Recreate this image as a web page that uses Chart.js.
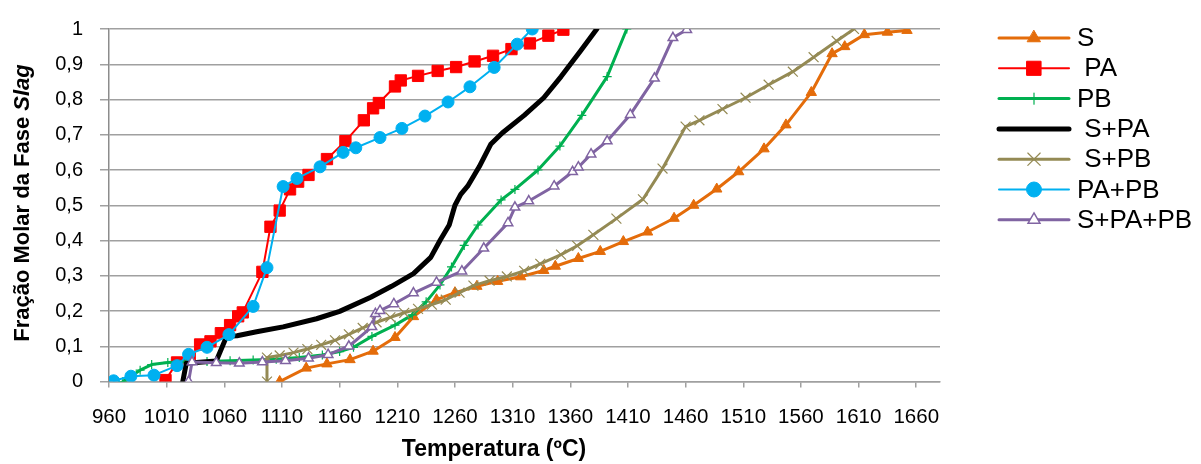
<!DOCTYPE html>
<html>
<head>
<meta charset="utf-8">
<script src="https://cdn.jsdelivr.net/npm/chart.js@4.4.1/dist/chart.umd.min.js"></script>
<style>
  html, body { margin: 0; padding: 0; background: #fff; }
  #wrap { width: 1201px; height: 464px; }
</style>
</head>
<body>
<div id="wrap"><canvas id="slagChart" width="1201" height="464"></canvas></div>
<script>
// Eixos
const xTicks = [960, 1010, 1060, 1110, 1160, 1210, 1260, 1310, 1360, 1410, 1460, 1510, 1560, 1610, 1660];
const yTicks = [0, 0.1, 0.2, 0.3, 0.4, 0.5, 0.6, 0.7, 0.8, 0.9, 1];
const yTickLabels = ['0', '0,1', '0,2', '0,3', '0,4', '0,5', '0,6', '0,7', '0,8', '0,9', '1'];
const xTitleText = 'Temperatura (ºC)';

// Nomes das séries (como aparecem na legenda)
const seriesNames = ['S', ' PA', 'PB', ' S+PA', ' S+PB', 'PA+PB', 'S+PA+PB'];

// S
const sTemp = [1108, 1131, 1149, 1169, 1189, 1208, 1224, 1244, 1260, 1279, 1297, 1317, 1337, 1347, 1367, 1386, 1406, 1427, 1450, 1467, 1487, 1506, 1528, 1547, 1569, 1587, 1598, 1615, 1635, 1652];
const sFrac = [0, 0.038, 0.05, 0.062, 0.086, 0.125, 0.184, 0.232, 0.252, 0.27, 0.284, 0.297, 0.315, 0.327, 0.349, 0.369, 0.397, 0.424, 0.463, 0.5, 0.546, 0.595, 0.66, 0.728, 0.82, 0.93, 0.95, 0.984, 0.991, 0.996];

// PA
const paTemp = [1009, 1019, 1030, 1039, 1048, 1057, 1065, 1072, 1076, 1093, 1100, 1108, 1117, 1124, 1133, 1149, 1165, 1181, 1189, 1194, 1208, 1213, 1228, 1245, 1261, 1277, 1293, 1309, 1325, 1341, 1354];
const paFrac = [0.004, 0.054, 0.066, 0.105, 0.114, 0.137, 0.16, 0.185, 0.196, 0.311, 0.439, 0.485, 0.545, 0.567, 0.586, 0.631, 0.682, 0.741, 0.775, 0.79, 0.837, 0.854, 0.867, 0.881, 0.892, 0.908, 0.924, 0.943, 0.959, 0.981, 0.998];

// PB
const pbTemp = [972, 987, 997, 1011, 1026, 1045, 1065, 1085, 1105, 1125, 1145, 1160, 1172, 1188, 1208, 1223, 1235, 1247, 1257, 1268, 1280, 1300, 1312, 1332, 1351, 1370, 1392, 1409];
const pbFrac = [0, 0.032, 0.048, 0.054, 0.056, 0.057, 0.059, 0.061, 0.063, 0.068, 0.075, 0.085, 0.097, 0.128, 0.16, 0.189, 0.226, 0.274, 0.325, 0.386, 0.444, 0.515, 0.545, 0.6, 0.668, 0.755, 0.865, 1.0];

// S+PA
const spaTemp = [1024, 1027, 1053, 1062, 1071, 1088, 1111, 1140, 1160, 1187, 1205, 1224, 1239, 1247, 1255, 1260, 1265, 1271, 1281, 1291, 1301, 1320, 1337, 1352, 1369, 1383];
const spaFrac = [0, 0.052, 0.058, 0.128, 0.13, 0.141, 0.155, 0.178, 0.199, 0.239, 0.27, 0.306, 0.352, 0.4, 0.444, 0.5, 0.531, 0.554, 0.609, 0.673, 0.705, 0.755, 0.805, 0.865, 0.938, 1.0];

// S+PB
const spbTemp = [1097, 1097, 1108, 1120, 1132, 1144, 1156, 1168, 1180, 1192, 1204, 1216, 1228, 1240, 1252, 1264, 1276, 1290, 1305, 1320, 1334, 1352, 1366, 1380, 1400, 1423, 1440, 1460, 1472, 1492, 1512, 1532, 1553, 1571, 1591, 1606];
const spbFrac = [0, 0.068, 0.074, 0.082, 0.092, 0.104, 0.117, 0.134, 0.152, 0.168, 0.182, 0.195, 0.206, 0.218, 0.232, 0.252, 0.272, 0.286, 0.298, 0.314, 0.334, 0.36, 0.385, 0.416, 0.462, 0.517, 0.604, 0.723, 0.741, 0.773, 0.805, 0.842, 0.879, 0.92, 0.966, 1.0];

// PA+PB
const papbTemp = [964, 979, 999, 1019, 1029, 1045, 1064, 1085, 1097, 1111, 1123, 1143, 1163, 1174, 1195, 1214, 1234, 1254, 1273, 1294, 1314, 1327];
const papbFrac = [0.002, 0.015, 0.018, 0.045, 0.077, 0.097, 0.133, 0.213, 0.323, 0.553, 0.576, 0.609, 0.65, 0.663, 0.692, 0.718, 0.753, 0.793, 0.836, 0.891, 0.957, 1.0];

// S+PA+PB
const spapbTemp = [1029, 1032, 1053, 1073, 1093, 1113, 1133, 1150, 1168, 1188, 1191, 1195, 1207, 1224, 1244, 1266, 1285, 1306, 1312, 1324, 1346, 1362, 1367, 1378, 1392, 1412, 1433, 1449, 1461];
const spapbFrac = [0, 0.055, 0.053, 0.052, 0.055, 0.059, 0.066, 0.076, 0.1, 0.155, 0.192, 0.201, 0.22, 0.251, 0.281, 0.313, 0.378, 0.45, 0.494, 0.512, 0.554, 0.595, 0.608, 0.645, 0.682, 0.757, 0.86, 0.975, 0.998];

const FONT = '"Liberation Sans", Arial, sans-serif';

function toPoints(temps, fracs) {
  return temps.map((t, i) => ({ x: t, y: fracs[i] }));
}

// Estilos das séries
const styles = [
  { color: '#E46C0A', width: 3, pointStyle: 'triangle', radius: 6, fill: '#E46C0A', border: 1 },
  { color: '#FF0000', width: 2, pointStyle: 'rect', radius: 8, fill: '#FF0000', border: 1 },
  { color: '#00B050', width: 3, pointStyle: 'cross', radius: 4.5, fill: '#00B050', border: 1.2 },
  { color: '#000000', width: 5, pointStyle: false, radius: 0, fill: '#000000', border: 0 },
  { color: '#948A54', width: 3, pointStyle: 'crossRot', radius: 7, fill: '#948A54', border: 1.2 },
  { color: '#00B0F0', width: 2, pointStyle: 'circle', radius: 6, fill: '#00B0F0', border: 1 },
  { color: '#8064A2', width: 3, pointStyle: 'triangle', radius: 5.5, fill: '#FFFFFF', border: 1.5 }
];

const seriesData = [
  toPoints(sTemp, sFrac),
  toPoints(paTemp, paFrac),
  toPoints(pbTemp, pbFrac),
  toPoints(spaTemp, spaFrac),
  toPoints(spbTemp, spbFrac),
  toPoints(papbTemp, papbFrac),
  toPoints(spapbTemp, spapbFrac)
];

const datasets = seriesData.map((data, i) => {
  const st = styles[i];
  return {
    label: seriesNames[i],
    data: data,
    showLine: true,
    borderColor: st.color,
    borderWidth: st.width,
    backgroundColor: st.fill,
    pointStyle: st.pointStyle,
    pointRadius: st.radius,
    pointBackgroundColor: st.fill,
    pointBorderColor: st.color,
    pointBorderWidth: st.border,
    tension: 0,
    borderJoinStyle: 'round',
    borderCapStyle: 'round',
    order: seriesNames.length - i
  };
});

// Legenda desenhada à direita
const sideLegend = {
  id: 'sideLegend',
  afterDraw(chart) {
    const ctx = chart.ctx;
    const x0 = 999, x1 = 1069, xm = 1034, tx = 1077;
    const top = 38, step = 30.3;
    ctx.save();
    chart.data.datasets.forEach((ds, i) => {
      const st = styles[i];
      const y = top + i * step;
      ctx.strokeStyle = st.color;
      ctx.lineWidth = st.width;
      ctx.lineCap = 'round';
      ctx.beginPath();
      ctx.moveTo(x0, y);
      ctx.lineTo(x1, y);
      ctx.stroke();
      if (st.pointStyle) {
        ctx.fillStyle = st.fill;
        ctx.strokeStyle = st.color;
        ctx.lineWidth = st.border;
        Chart.helpers.drawPoint(ctx, {
          pointStyle: st.pointStyle,
          radius: st.radius * 1.25,
          rotation: 0,
          borderWidth: st.border
        }, xm, y);
      }
      ctx.fillStyle = '#000';
      ctx.font = '26px ' + FONT;
      ctx.textAlign = 'left';
      ctx.textBaseline = 'middle';
      ctx.fillText(ds.label, tx, y + 1);
    });
    ctx.restore();
  }
};

// Títulos dos eixos ("Slag" em itálico)
const axisTitles = {
  id: 'axisTitles',
  afterDraw(chart) {
    const ctx = chart.ctx;
    ctx.save();
    ctx.fillStyle = '#000';
    ctx.textBaseline = 'middle';

    // eixo X
    ctx.font = 'bold 23px ' + FONT;
    ctx.textAlign = 'center';
    ctx.fillText(xTitleText, 494, 450);

    // eixo Y
    const partA = 'Fração Molar da Fase ';
    const partB = 'Slag';
    const fa = 'bold 22px ' + FONT;
    const fb = 'italic bold 22px ' + FONT;
    ctx.translate(23, 203);
    ctx.rotate(-Math.PI / 2);
    ctx.font = fa;
    const wA = ctx.measureText(partA).width;
    ctx.font = fb;
    const wB = ctx.measureText(partB).width;
    const start = -(wA + wB) / 2;
    ctx.textAlign = 'left';
    ctx.font = fa;
    ctx.fillText(partA, start, 0);
    ctx.font = fb;
    ctx.fillText(partB, start + wA, 0);
    ctx.restore();
  }
};

new Chart(document.getElementById('slagChart').getContext('2d'), {
  type: 'scatter',
  data: { datasets: datasets },
  options: {
    responsive: false,
    animation: false,
    devicePixelRatio: 1,
    layout: { padding: { left: 40, right: 261, top: 17.5, bottom: 0 } },
    plugins: {
      legend: { display: false },
      tooltip: { enabled: false }
    },
    scales: {
      x: {
        type: 'linear',
        min: 960,
        max: 1680.6,
        afterBuildTicks(scale) {
          scale.ticks = xTicks.map(v => ({ value: v }));
        },
        afterFit(scale) { scale.height = 82.5; },
        grid: {
          drawOnChartArea: false,
          drawTicks: true,
          tickLength: 6,
          color: '#a0a0a0',
          lineWidth: 1.5
        },
        border: { display: true, color: '#a0a0a0', width: 1.5 },
        ticks: {
          color: '#000',
          font: { family: FONT, size: 20.5 },
          padding: 18,
          maxRotation: 0,
          autoSkip: false,
          callback: v => String(v)
        }
      },
      y: {
        type: 'linear',
        min: 0,
        max: 1,
        afterBuildTicks(scale) {
          scale.ticks = yTicks.map(v => ({ value: v }));
        },
        afterFit(scale) { scale.width = 69; },
        grid: {
          drawOnChartArea: true,
          drawTicks: true,
          tickLength: 9,
          color: '#a0a0a0',
          lineWidth: 1.5
        },
        border: { display: true, color: '#8c8c8c', width: 1.5 },
        ticks: {
          color: '#000',
          font: { family: FONT, size: 20 },
          padding: 17,
          autoSkip: false,
          callback: (v, i) => yTickLabels[i]
        }
      }
    }
  },
  plugins: [sideLegend, axisTitles]
});
</script>
</body>
</html>
